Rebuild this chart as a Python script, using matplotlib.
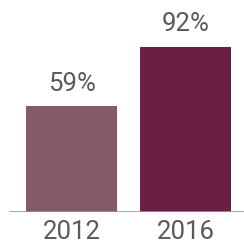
import matplotlib
matplotlib.use('Agg')
import matplotlib.pyplot as plt

# dados
anos = ['2012', '2016']
valores = [59, 92]
cores = ['#845a6a', '#6a2045']

plt.rcParams['font.family'] = ['Roboto', 'DejaVu Sans']

fig = plt.figure(figsize=(2.44, 2.45), dpi=100)
ax = fig.add_axes([0, 33 / 245, 1, 212 / 245])

x = range(len(anos))
barras = ax.bar(x, valores, width=0.8, color=cores)

for b, v in zip(barras, valores):
    ax.annotate(f'{v}%', (b.get_x() + b.get_width() / 2, v),
                xytext=(0, 7.5), textcoords='offset points',
                ha='center', va='bottom', fontsize=18.5, color='#5a5a5a')

ax.axhline(0, xmin=10 / 244, xmax=1, color='#8a9aa0', lw=1.2)
ax.set_xlim(-0.627, 1.513)
ax.set_ylim(0, 118)
ax.set_xticks(list(x))
ax.set_xticklabels(anos, fontsize=18.5, color='#5a5a5a')
ax.tick_params(axis='x', length=0, pad=6)
ax.set_yticks([])
for s in ax.spines.values():
    s.set_visible(False)

fig.savefig('out.png', dpi=100)
